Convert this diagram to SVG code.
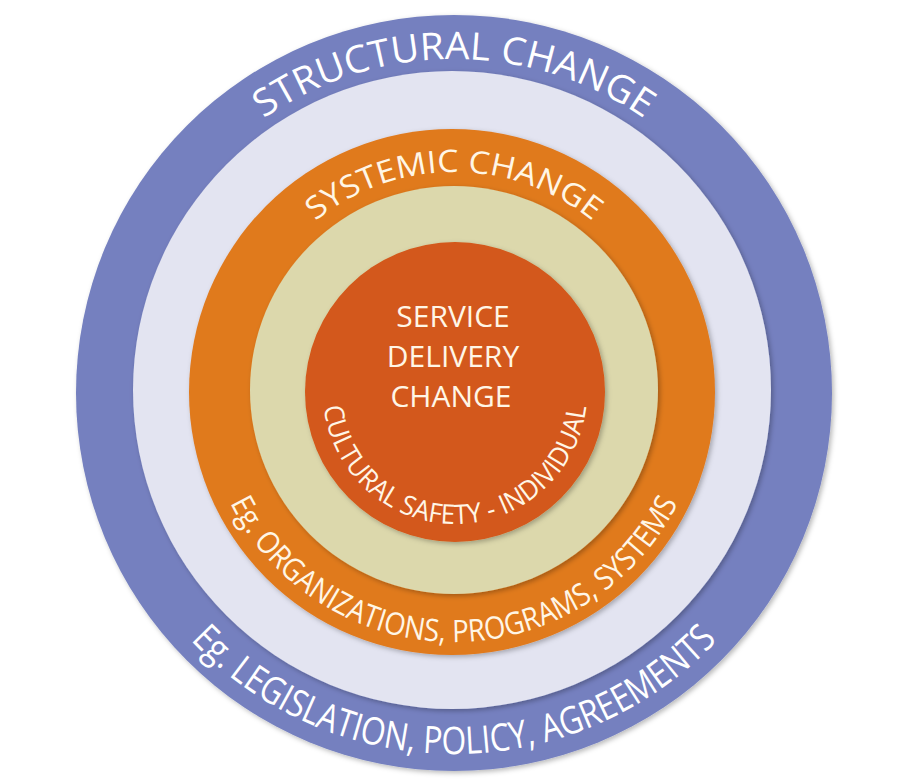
<svg xmlns="http://www.w3.org/2000/svg" width="910" height="779" viewBox="0 0 910 779">
<style>
.lbl{font-family:"Open Sans","Noto Sans","Liberation Sans",sans-serif;font-weight:400}
.w{fill:#ffffff}
.c{fill:#fff6e6}
</style>
<defs>
<filter id="sh" x="-10%" y="-10%" width="120%" height="120%">
<feDropShadow dx="2" dy="2" stdDeviation="2.5" flood-color="#000" flood-opacity="0.28"/>
</filter>
<path id="pStructural" d="M121,392 A333,333 0 0 1 787,392"/>
<path id="pSystemic" d="M234,392 A220,220 0 0 1 674,392"/>
<path id="pLegis" d="M92,392 A362,362 0 0 0 816,392"/>
<path id="pOrg" d="M204,392 A250,250 0 0 0 704,392"/>
<path id="pCult" d="M323,392 A132,132 0 0 0 587,392"/>
</defs>
<rect width="910" height="779" fill="#ffffff"/>
<g id="structural-change">
<circle cx="454" cy="393" r="378" fill="#7580bf" filter="url(#sh)"/>
<circle cx="452" cy="390" r="319" fill="#e3e4f1" filter="url(#sh)"/>
<text class="lbl w" font-size="38"><textPath href="#pStructural" startOffset="50%" text-anchor="middle" textLength="405" lengthAdjust="spacingAndGlyphs">STRUCTURAL CHANGE</textPath></text>
<text class="lbl w" font-size="38"><textPath href="#pLegis" startOffset="50%" text-anchor="middle" textLength="590" lengthAdjust="spacingAndGlyphs">Eg. LEGISLATION, POLICY, AGREEMENTS</textPath></text>
</g>
<g id="systemic-change">
<circle cx="452" cy="392" r="263" fill="#e07a1f" filter="url(#sh)"/>
<circle cx="454" cy="390" r="204" fill="#dcd8ac" filter="url(#sh)"/>
<text class="lbl c" font-size="31"><textPath href="#pSystemic" startOffset="50%" text-anchor="middle" textLength="300" lengthAdjust="spacingAndGlyphs">SYSTEMIC CHANGE</textPath></text>
<text class="lbl c" font-size="31"><textPath href="#pOrg" startOffset="50%" text-anchor="middle" textLength="555" lengthAdjust="spacingAndGlyphs">Eg. ORGANIZATIONS, PROGRAMS, SYSTEMS</textPath></text>
</g>
<g id="service-delivery-change">
<circle cx="455" cy="392" r="150" fill="#d3581a" filter="url(#sh)"/>
<text class="lbl c" font-size="30" text-anchor="middle" x="453" y="327">SERVICE</text>
<text class="lbl c" font-size="30" text-anchor="middle" x="453" y="367">DELIVERY</text>
<text class="lbl c" font-size="30" text-anchor="middle" x="451" y="407">CHANGE</text>
<text class="lbl c" font-size="27"><textPath href="#pCult" startOffset="50%" text-anchor="middle" textLength="385" lengthAdjust="spacingAndGlyphs">CULTURAL SAFETY - INDIVIDUAL</textPath></text>
</g>
<g id="connectors"/>
</svg>
